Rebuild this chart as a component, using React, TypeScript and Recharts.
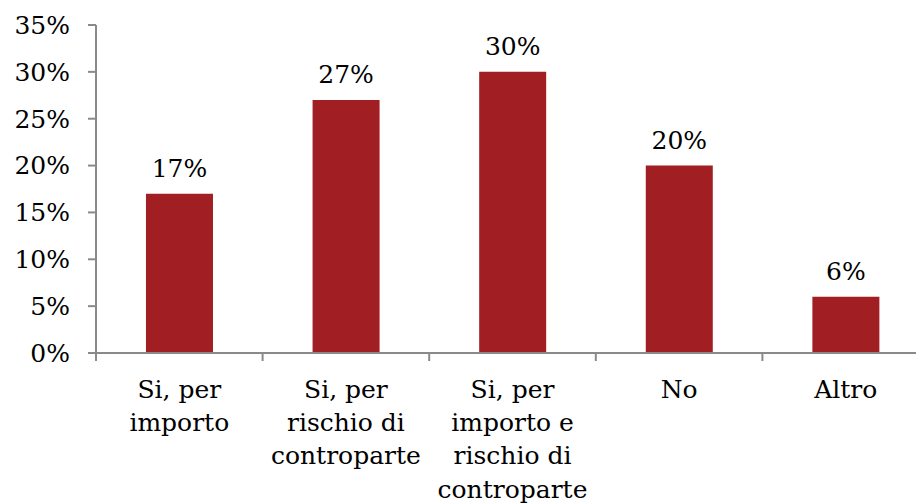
import React from "react";
import { BarChart, Bar, XAxis, YAxis, LabelList } from "recharts";

const categories: string[][] = [
  ["Si, per", "importo"],
  ["Si, per", "rischio di", "controparte"],
  ["Si, per", "importo e", "rischio di", "controparte"],
  ["No"],
  ["Altro"],
];
const values: number[] = [17, 27, 30, 20, 6];
const yTicks: number[] = [0, 5, 10, 15, 20, 25, 30, 35];

const data = categories.map((c, i) => ({ name: String(i), value: values[i] }));

const FONT = "'DejaVu Serif', serif";
const AXIS = "#8a8a8a";
const PLOT_W = 833;
const BAND = PLOT_W / categories.length;

const XTick = (props: any) => {
  const { x, y, payload, index } = props;
  const lines = categories[Number(payload.value)] || [];
  const half = BAND / 2;
  const axisY = y - 8;
  return (
    <g>
      <line x1={x - half} x2={x - half} y1={axisY} y2={axisY + 8} stroke={AXIS} strokeWidth={2} />
      {index === categories.length - 1 && (
        <line x1={x + half} x2={x + half} y1={axisY} y2={axisY + 8} stroke={AXIS} strokeWidth={2} />
      )}
      <text x={x} y={axisY + 45} textAnchor="middle" fontFamily={FONT} fontSize={25} fill="#000">
        {lines.map((l, i) => (
          <tspan key={i} x={x} dy={i === 0 ? 0 : 33.2}>
            {l}
          </tspan>
        ))}
      </text>
    </g>
  );
};

export default function App() {
  return (
    <div style={{ width: 916, overflow: "hidden" }}>
      <BarChart
        width={930}
        height={495}
        data={data}
        margin={{ top: 17, right: 9, left: 0, bottom: 0 }}
        barCategoryGap="30%"
      >
        <XAxis
          dataKey="name"
          height={150}
          axisLine={{ stroke: AXIS, strokeWidth: 2 }}
          tickLine={false}
          tick={<XTick />}
          interval={0}
        />
        <YAxis
          width={88}
          domain={[0, 35]}
          ticks={yTicks}
          interval={0}
          tickFormatter={(v: number) => `${v}%`}
          axisLine={{ stroke: AXIS, strokeWidth: 2 }}
          tickLine={{ stroke: AXIS, strokeWidth: 2 }}
          tickSize={8}
          tickMargin={18}
          tick={{ fontFamily: FONT, fontSize: 25, fill: "#000" }}
        />
        <Bar dataKey="value" fill="#A11E22" isAnimationActive={false}>
          <LabelList
            dataKey="value"
            position="top"
            offset={17}
            formatter={(v: any) => `${v}%`}
            style={{ fontFamily: FONT, fontSize: 25, fill: "#000" }}
          />
        </Bar>
      </BarChart>
    </div>
  );
}
